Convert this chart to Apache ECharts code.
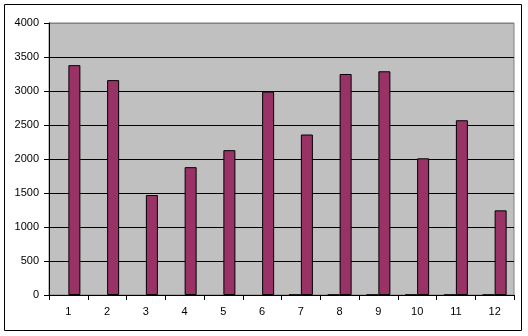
<!DOCTYPE html>
<html>
<head>
<meta charset="utf-8">
<script src="https://cdn.jsdelivr.net/npm/echarts@6/dist/echarts.min.js"></script>
<style>
html,body{margin:0;padding:0;background:#fff;}
#c{width:528px;height:336px;}
</style>
</head>
<body>
<div id="c"></div>
<script>
const categories = ['1','2','3','4','5','6','7','8','9','10','11','12'];
const seriesSmall = [0, 0, 0, 0, 0, 0, 15, 15, 15, 15, 15, 15];
const seriesMain = [3380, 3160, 1470, 1880, 2130, 2990, 2360, 3250, 3290, 2010, 2570, 1245];
const yTicks = {min: 0, max: 4000, interval: 500};

const chart = echarts.init(document.getElementById('c'), null, {renderer: 'canvas'});
const splitColors = [];
for (let v = yTicks.min; v <= yTicks.max; v += yTicks.interval) {
  splitColors.push(v === yTicks.max ? '#808080' : '#000000');
}
chart.setOption({
  animation: false,
  backgroundColor: '#ffffff',
  graphic: [{
    type: 'rect',
    shape: {x: 4.5, y: 4.5, width: 517, height: 326},
    style: {fill: 'none', stroke: '#000', lineWidth: 1},
    silent: true,
    z: -10
  }],
  grid: {
    left: 49, top: 23, width: 465, height: 272,
    show: true,
    backgroundColor: '#C0C0C0',
    borderColor: '#808080',
    borderWidth: 1
  },
  xAxis: {
    type: 'category',
    data: categories,
    boundaryGap: true,
    axisLine: {show: true, lineStyle: {color: '#000', width: 1}},
    axisTick: {show: true, length: 5, alignWithLabel: false, lineStyle: {color: '#000'}},
    axisLabel: {color: '#000', fontFamily: 'Arial, Liberation Sans', fontSize: 11, margin: 11, interval: 0},
    splitLine: {show: false}
  },
  yAxis: {
    type: 'value',
    min: yTicks.min, max: yTicks.max, interval: yTicks.interval,
    axisLine: {show: true, lineStyle: {color: '#000', width: 1}},
    axisTick: {show: true, length: 5, lineStyle: {color: '#000'}},
    axisLabel: {color: '#000', fontFamily: 'Arial, Liberation Sans', fontSize: 11, margin: 10,
      formatter: function (v) { return String(v); }},
    splitLine: {show: true, lineStyle: {color: splitColors, width: 1}}
  },
  series: [
    {
      type: 'bar',
      data: seriesSmall,
      barWidth: 12,
      barGap: '0%',
      barMinHeight: 0,
      itemStyle: {color: '#1a1a1a', borderWidth: 0}
    },
    {
      type: 'bar',
      data: seriesMain,
      barWidth: 12,
      barGap: '0%',
      itemStyle: {color: '#993366', borderColor: '#000', borderWidth: 1}
    }
  ]
});
</script>
</body>
</html>
